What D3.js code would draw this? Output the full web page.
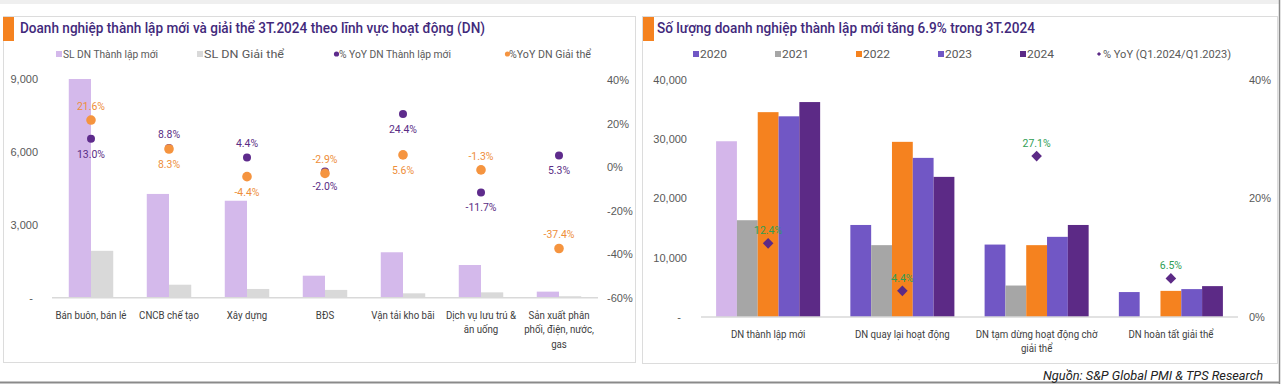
<!DOCTYPE html>
<html><head><meta charset="utf-8">
<script src="https://cdn.jsdelivr.net/npm/d3@7"></script>
<style>
body{margin:0;background:#fff;}
svg{display:block;font-family:Roboto,"Noto Sans",sans-serif;}
</style></head><body>
<svg id="c" width="1282" height="384"></svg>
<script>
// ---------- Left chart data ----------
const sectors = ["Bán buôn, bán lẻ","CNCB chế tạo","Xây dựng","BĐS","Vận tải kho bãi","Dịch vụ lưu trú &\năn uống","Sản xuất phân\nphối, điện, nước,\ngas"];
const newFirms = [9000,4270,3990,905,1870,1345,250];
const dissolvedFirms = [1930,535,360,320,180,220,60];
const yoyNew = [13.0,8.8,4.4,-2.0,24.4,-11.7,5.3];
const yoyDissolved = [21.6,8.3,-4.4,-2.9,5.6,-1.3,-37.4];
const yoyNewLabelSide = ["below","above","above","below","below","below","below"];
const yoyDisLabelSide = ["above","below","below","above","below","above","above"];
const leftCountTicks = [0,3000,6000,9000];
const leftPctTicks = [-60,-40,-20,0,20,40];
const leftLegend = ["SL DN Thành lập mới","SL DN Giải thể","% YoY DN Thành lập mới","%YoY DN Giải thể"];

// ---------- Right chart data ----------
const groups = ["DN thành lập mới","DN quay lại hoạt động","DN tạm dừng hoạt động chờ\ngiải thể","DN hoàn tất giải thể"];
const years = ["2020","2021","2022","2023","2024"];
const v2020 = [29600,15500,12200,4200];
const v2021 = [16300,12100,5300,null];
const v2022 = [34500,29500,12100,4400];
const v2023 = [33800,26800,13500,4700];
const v2024 = [36200,23600,15500,5200];
const yoyQ1 = [12.4,4.4,27.1,6.5];
const rightCountTicks = [0,10000,20000,30000,40000];
const rightPctTicks = [0,20,40];
const yoyLegend = "% YoY (Q1.2024/Q1.2023)";

const leftTitle = "Doanh nghiệp thành lập mới và giải thể 3T.2024 theo lĩnh vực hoạt động (DN)";
const rightTitle = "Số lượng doanh nghiệp thành lập mới tăng 6.9% trong 3T.2024";
const source = "Nguồn: S&P Global PMI & TPS Research";

// ---------- helpers ----------
const svg = d3.select("#c");
function fit(sel, k){ sel.each(function(){ const L=this.getComputedTextLength(); if(L>0){ this.setAttribute("textLength", L*k); this.setAttribute("lengthAdjust","spacingAndGlyphs"); } }); return sel; }
function fitTo(sel, w){ sel.attr("textLength", w).attr("lengthAdjust","spacingAndGlyphs"); return sel; }
const fmt = d3.format(",");

// frame
svg.append("rect").attr("x",0).attr("y",0).attr("width",1280).attr("height",4).attr("fill","#efefef");
svg.append("line").attr("x1",1279.5).attr("x2",1279.5).attr("y1",0).attr("y2",384).attr("stroke","#8a8a8a").attr("stroke-width",1.5);
svg.append("line").attr("x1",0).attr("x2",1280).attr("y1",382.5).attr("y2",382.5).attr("stroke","#8a8a8a").attr("stroke-width",2);
svg.append("rect").attr("x",3.5).attr("y",16.5).attr("width",632).attr("height",346).attr("fill","#fff").attr("stroke","#dcdcdc");
svg.append("rect").attr("x",642.5).attr("y",16.5).attr("width",635).attr("height",347).attr("fill","#fff").attr("stroke","#dcdcdc");
svg.append("rect").attr("x",3).attr("y",17).attr("width",11).attr("height",24).attr("fill","#f5821f");
svg.append("rect").attr("x",643).attr("y",17).attr("width",11).attr("height",24).attr("fill","#f5821f");

fitTo(svg.append("text").attr("x",20).attr("y",33).attr("font-size",14.5).attr("font-weight",500).attr("fill","#42297b").text(leftTitle),465);
fitTo(svg.append("text").attr("x",657).attr("y",33).attr("font-size",14.5).attr("font-weight",500).attr("fill","#42297b").text(rightTitle),378);
fitTo(svg.append("text").attr("x",1263).attr("y",380).attr("text-anchor","end").attr("font-size",12.5).attr("font-style","italic").attr("fill","#222").text(source),220);

const C = {lav:"#d4b9eb", lgray:"#d9d9d9", pdot:"#5e2b8c", odot:"#f5943f", ptext:"#5a2d85", otext:"#ee8e3a",
  c2020:"#7157c5", c2020a:"#d4b6ea", c2021:"#a6a6a6", c2022:"#f5821f", c2023:"#7157c5", c2024:"#5c2a86", green:"#2f9e55", axis:"#595959", cat:"#404040"};

// ---------- Left chart ----------
{
  const x = d3.scaleBand().domain(sectors).range([52,598]).paddingInner(0.43).paddingOuter(0.215);
  const xi = d3.scaleBand().domain(["new","dis"]).range([0,x.bandwidth()]);
  const y = d3.scaleLinear().domain([0,9000]).range([297.7,79]);
  const yp = d3.scaleLinear().domain([-60,40]).range([297.7,80]);
  const g = svg.append("g");

  // legend
  const ly = 54;
  const lg = g.append("g").attr("font-size",11).attr("fill",C.axis);
  const lx = [56,197,334,505];
  lg.append("rect").attr("x",lx[0]).attr("y",ly-3).attr("width",6).attr("height",6).attr("fill",C.lav);
  lg.append("rect").attr("x",lx[1]).attr("y",ly-3).attr("width",6).attr("height",6).attr("fill",C.lgray);
  lg.append("circle").attr("cx",lx[2]+2.5).attr("cy",ly).attr("r",2.6).attr("fill",C.pdot);
  lg.append("circle").attr("cx",lx[3]+2.5).attr("cy",ly).attr("r",2.6).attr("fill",C.odot);
  const lt = [63,204,339,509];
  const lw = [95,80,112,82];
  leftLegend.forEach((t,i)=>fitTo(lg.append("text").attr("x",lt[i]).attr("y",ly).attr("dy","0.35em").text(t),lw[i]));

  // axes
  const ax = g.append("g").attr("transform","translate(38,0)")
    .call(d3.axisLeft(y).tickValues(leftCountTicks).tickSize(0).tickPadding(0).tickFormat(d=>d===0?"-":fmt(d)));
  ax.select(".domain").remove();
  ax.selectAll("text").attr("font-size",11).attr("fill",C.axis).attr("font-family",null).filter(d=>d===0).attr("x",-5);
  const ax2 = g.append("g").attr("transform","translate(607,0)")
    .call(d3.axisRight(yp).tickValues(leftPctTicks).tickSize(0).tickPadding(0).tickFormat(d=>d+"%"));
  ax2.select(".domain").remove();
  ax2.selectAll("text").attr("font-size",11).attr("fill",C.axis).attr("font-family",null);

  // bars
  g.selectAll(".bn").data(sectors).join("rect").attr("x",d=>x(d)+xi("new")).attr("width",xi.bandwidth())
    .attr("y",(d,i)=>y(newFirms[i])).attr("height",(d,i)=>y(0)-y(newFirms[i])).attr("fill",C.lav);
  g.selectAll(".bd").data(sectors).join("rect").attr("x",d=>x(d)+xi("dis")).attr("width",xi.bandwidth())
    .attr("y",(d,i)=>y(dissolvedFirms[i])).attr("height",(d,i)=>y(0)-y(dissolvedFirms[i])).attr("fill",C.lgray);
  g.append("line").attr("x1",52).attr("x2",598).attr("y1",y(0)).attr("y2",y(0)).attr("stroke","#d9d9d9").attr("stroke-width",1.5);

  // dots
  const cx = d => x(d)+x.bandwidth()/2;
  g.selectAll(".dn").data(sectors).join("circle").attr("cx",cx).attr("cy",(d,i)=>yp(yoyNew[i])).attr("r",4).attr("fill",C.pdot);
  g.selectAll(".dd").data(sectors).join("circle").attr("cx",cx).attr("cy",(d,i)=>yp(yoyDissolved[i])).attr("r",4.8).attr("fill",C.odot);
  const off = s => s==="above" ? -14 : 15;
  fit(g.selectAll(".ln").data(sectors).join("text").attr("x",cx).attr("y",(d,i)=>yp(yoyNew[i])+off(yoyNewLabelSide[i]))
    .attr("dy","0.35em").attr("text-anchor","middle").attr("font-size",11).attr("fill",C.ptext).text((d,i)=>yoyNew[i].toFixed(1)+"%"),0.95);
  fit(g.selectAll(".ld").data(sectors).join("text").attr("x",cx).attr("y",(d,i)=>yp(yoyDissolved[i])+off(yoyDisLabelSide[i]))
    .attr("dy","0.35em").attr("text-anchor","middle").attr("font-size",11).attr("fill",C.otext).text((d,i)=>yoyDissolved[i].toFixed(1)+"%"),0.95);

  // category labels
  sectors.forEach(s=>{
    s.split("\n").forEach((line,j)=>{
      fit(g.append("text").attr("x",cx(s)).attr("y",315+j*14.5).attr("dy","0.35em").attr("text-anchor","middle")
        .attr("font-size",11).attr("fill",C.cat).text(line),0.88);
    });
  });
}

// ---------- Right chart ----------
{
  const x = d3.scaleBand().domain(groups).range([701,1238]).paddingInner(0.225).paddingOuter(0.1125);
  const xi = d3.scaleBand().domain(years).range([0,x.bandwidth()]);
  const y = d3.scaleLinear().domain([0,40000]).range([317,79.5]);
  const yp = d3.scaleLinear().domain([0,40]).range([317,79.5]);
  const g = svg.append("g");
  const series = [v2020,v2021,v2022,v2023,v2024];
  const cols = [C.c2020,C.c2021,C.c2022,C.c2023,C.c2024];

  // legend
  const ly = 54;
  const lg = g.append("g").attr("font-size",11).attr("fill",C.axis);
  const sx = [693,775,856,938,1020];
  years.forEach((yr,i)=>{
    lg.append("rect").attr("x",sx[i]).attr("y",ly-3).attr("width",6).attr("height",6).attr("fill",cols[i]);
    fitTo(lg.append("text").attr("x",sx[i]+7).attr("y",ly).attr("dy","0.35em").text(yr),27);
  });
  lg.append("path").attr("d",d3.symbol(d3.symbolSquare,9)()).attr("transform",`translate(1099,${ly}) rotate(45)`).attr("fill",C.c2024);
  fitTo(lg.append("text").attr("x",1103).attr("y",ly).attr("dy","0.35em").text(yoyLegend),128);

  // axes
  const ax = g.append("g").attr("transform","translate(687,0)")
    .call(d3.axisLeft(y).tickValues(rightCountTicks).tickSize(0).tickPadding(0).tickFormat(d=>d===0?"-":fmt(d)));
  ax.select(".domain").remove();
  ax.selectAll("text").attr("font-size",11).attr("fill",C.axis).attr("font-family",null).filter(d=>d===0).attr("x",-6);
  const ax2 = g.append("g").attr("transform","translate(1249,0)")
    .call(d3.axisRight(yp).tickValues(rightPctTicks).tickSize(0).tickPadding(0).tickFormat(d=>d+"%"));
  ax2.select(".domain").remove();
  ax2.selectAll("text").attr("font-size",11).attr("fill",C.axis).attr("font-family",null);

  // bars
  series.forEach((vals,si)=>{
    g.selectAll(null).data(groups.map((gname,i)=>({gname,i,v:vals[i]})).filter(d=>d.v!=null)).join("rect")
      .attr("x",d=>x(d.gname)+xi(years[si])).attr("width",xi.bandwidth())
      .attr("y",d=>y(d.v)).attr("height",d=>y(0)-y(d.v))
      .attr("fill",d=> (si===0 && d.i===0) ? C.c2020a : cols[si]);
  });
  g.append("line").attr("x1",701).attr("x2",1238).attr("y1",y(0)).attr("y2",y(0)).attr("stroke","#d9d9d9").attr("stroke-width",1.5);

  const cx = d => x(d)+x.bandwidth()/2;
  g.selectAll(".dm").data(groups).join("path").attr("d",d3.symbol(d3.symbolSquare,56)())
    .attr("transform",(d,i)=>`translate(${cx(d)},${yp(yoyQ1[i])}) rotate(45)`).attr("fill",C.c2024);
  fit(g.selectAll(".dl").data(groups).join("text").attr("x",cx).attr("y",(d,i)=>yp(yoyQ1[i])-13).attr("dy","0.35em")
    .attr("text-anchor","middle").attr("font-size",11).attr("fill",C.green).text((d,i)=>yoyQ1[i].toFixed(1)+"%"),0.95);

  groups.forEach(s=>{
    s.split("\n").forEach((line,j)=>{
      fit(g.append("text").attr("x",cx(s)).attr("y",334+j*14).attr("dy","0.35em").attr("text-anchor","middle")
        .attr("font-size",11).attr("fill",C.cat).text(line),0.88);
    });
  });
}
</script>
</body></html>
